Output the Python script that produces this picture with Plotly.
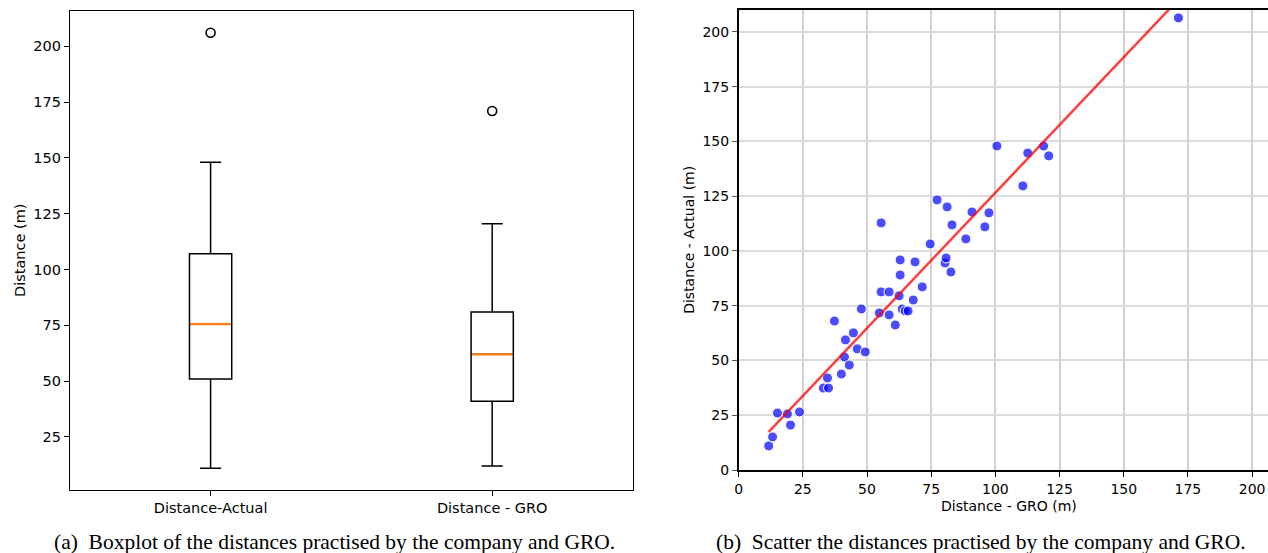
import plotly.graph_objects as go

W, H = 1268, 553
H_EFF = 545  # effective drawing height observed in the rendered page

# ---- Boxplot data (precomputed statistics)
box_labels = ["Distance-Actual", "Distance - GRO"]
box_pos = [1, 2]
q1 = [51.0, 41.0]
median = [75.5, 62.0]
q3 = [107.0, 81.0]
lower = [11.0, 12.0]
upper = [148.0, 120.5]
outliers = [206.0, 171.0]

# ---- Scatter data
gro = [11.7, 13.2, 15.1, 19.0, 20.2, 23.7, 33.0, 35.0, 34.6, 37.3,
       40.0, 41.2, 41.6, 43.1, 44.7, 46.2, 47.8, 49.3, 54.8, 55.5,
       55.5, 58.6, 58.6, 61.0, 62.5, 62.9, 62.9, 63.7, 64.9, 66.0,
       68.0, 68.7, 71.5, 74.6, 77.3, 80.4, 80.8, 81.2, 82.7, 83.1,
       88.5, 90.9, 95.9, 97.5, 100.6, 110.7, 112.6, 118.8, 120.8, 171.3]
actual = [11.0, 15.1, 26.0, 25.6, 20.5, 26.5, 37.4, 37.4, 42.0, 68.0,
          43.8, 51.6, 59.4, 47.9, 62.6, 55.3, 73.5, 53.9, 71.7, 112.8,
          81.3, 81.3, 70.8, 66.2, 79.5, 89.0, 95.9, 73.5, 72.6, 72.6,
          77.6, 95.0, 83.6, 103.2, 123.3, 94.5, 96.8, 120.1, 90.4, 111.9,
          105.5, 117.8, 111.0, 117.4, 147.9, 129.7, 144.7, 147.9, 143.4, 206.4]
fit_slope = 1.237
fit_intercept = 2.9

ticks25 = [0, 25, 50, 75, 100, 125, 150, 175, 200]
left_yticks = [25, 50, 75, 100, 125, 150, 175, 200]

BOX_W = 0.15

fig = go.Figure()

for i in range(2):
    fig.add_trace(go.Box(
        x=[box_pos[i]], q1=[q1[i]], median=[median[i]], q3=[q3[i]],
        lowerfence=[lower[i]], upperfence=[upper[i]],
        width=BOX_W, whiskerwidth=0.5, boxpoints=False,
        fillcolor="white", line=dict(color="black", width=1.5),
        xaxis="x", yaxis="y", showlegend=False, hoverinfo="skip"))
    fig.add_trace(go.Scatter(
        x=[box_pos[i] - BOX_W / 2 + 0.003, box_pos[i] + BOX_W / 2 - 0.003],
        y=[median[i], median[i]], mode="lines",
        line=dict(color="#ff7f0e", width=2.2),
        xaxis="x", yaxis="y", showlegend=False, hoverinfo="skip"))

fig.add_trace(go.Scatter(
    x=box_pos, y=outliers, mode="markers",
    marker=dict(symbol="circle-open", size=9, color="black", line=dict(width=1.6)),
    xaxis="x", yaxis="y", showlegend=False))

fig.add_trace(go.Scatter(
    x=gro, y=actual, mode="markers",
    marker=dict(size=10, color="rgba(0,0,255,0.7)", line=dict(color="white", width=1)),
    xaxis="x2", yaxis="y2", showlegend=False))

lx = [min(gro), max(gro)]
ly = [fit_intercept + fit_slope * v for v in lx]
fig.add_trace(go.Scatter(
    x=lx, y=ly, mode="lines", line=dict(color="rgba(255,0,0,0.75)", width=2.5),
    xaxis="x2", yaxis="y2", showlegend=False, cliponaxis=True))


def px_x(p):
    return p / W


def px_y(p):
    return 1 - p / H_EFF


fig.update_layout(
    width=W, height=H,
    margin=dict(l=0, r=0, t=0, b=0),
    paper_bgcolor="white", plot_bgcolor="white",
    font=dict(family="DejaVu Sans", size=14, color="black"),
    xaxis=dict(domain=[px_x(66), px_x(631)], range=[0.5, 2.5],
               tickvals=box_pos, ticktext=box_labels,
               showline=True, linecolor="black", linewidth=1, mirror=True,
               ticks="outside", ticklen=5, tickcolor="black",
               showgrid=False, zeroline=False,
               tickfont=dict(family="DejaVu Sans", size=14.5, color="black")),
    yaxis=dict(domain=[px_y(490), px_y(11)], range=[1.25, 215.75],
               tickvals=left_yticks,
               showline=True, linecolor="black", linewidth=1, mirror=True,
               ticks="outside", ticklen=5, tickcolor="black",
               showgrid=False, zeroline=False,
               tickfont=dict(family="DejaVu Sans", size=14.5, color="black")),
    xaxis2=dict(domain=[px_x(737), 1.0], range=[0, 206.2], anchor="y2",
                tickvals=ticks25,
                showline=True, linecolor="black", linewidth=1.5, mirror=True,
                ticks="outside", ticklen=5, tickcolor="black",
                showgrid=True, gridcolor="#d0d0d0", gridwidth=1.5, zeroline=False,
                tickfont=dict(family="DejaVu Sans", size=14, color="black")),
    yaxis2=dict(domain=[px_y(470), px_y(10)], range=[0, 210], anchor="x2",
                tickvals=ticks25,
                showline=True, linecolor="black", linewidth=1.5, mirror=False,
                ticks="outside", ticklen=5, tickcolor="#555",
                showgrid=True, gridcolor="#dcdcdc", gridwidth=2, zeroline=False,
                tickfont=dict(family="DejaVu Sans", size=14, color="black")),
    annotations=[
        dict(text="Distance (m)", x=px_x(16), y=px_y(250), xref="paper", yref="paper",
             textangle=-90, showarrow=False, xanchor="center", yanchor="middle",
             font=dict(family="DejaVu Sans", size=14.5, color="black")),
        dict(text="Distance - Actual (m)", x=px_x(687), y=px_y(240), xref="paper", yref="paper",
             textangle=-90, showarrow=False, xanchor="center", yanchor="middle",
             font=dict(family="DejaVu Sans", size=14, color="black")),
        dict(text="Distance - GRO (m)", x=px_x(1008), y=px_y(506), xref="paper", yref="paper",
             showarrow=False, xanchor="center", yanchor="middle",
             font=dict(family="DejaVu Sans", size=14, color="black")),
        dict(text="(a)\u2002Boxplot of the distances practised by the company and GRO.",
             x=px_x(332), y=px_y(542), xref="paper", yref="paper",
             showarrow=False, xanchor="center", yanchor="middle",
             font=dict(family="Liberation Serif", size=21.5, color="black")),
        dict(text="(b)\u2002Scatter the distances practised by the company and GRO.",
             x=px_x(980), y=px_y(542), xref="paper", yref="paper",
             showarrow=False, xanchor="center", yanchor="middle",
             font=dict(family="Liberation Serif", size=21.5, color="black")),
    ],
)

fig.write_html("out.html")
